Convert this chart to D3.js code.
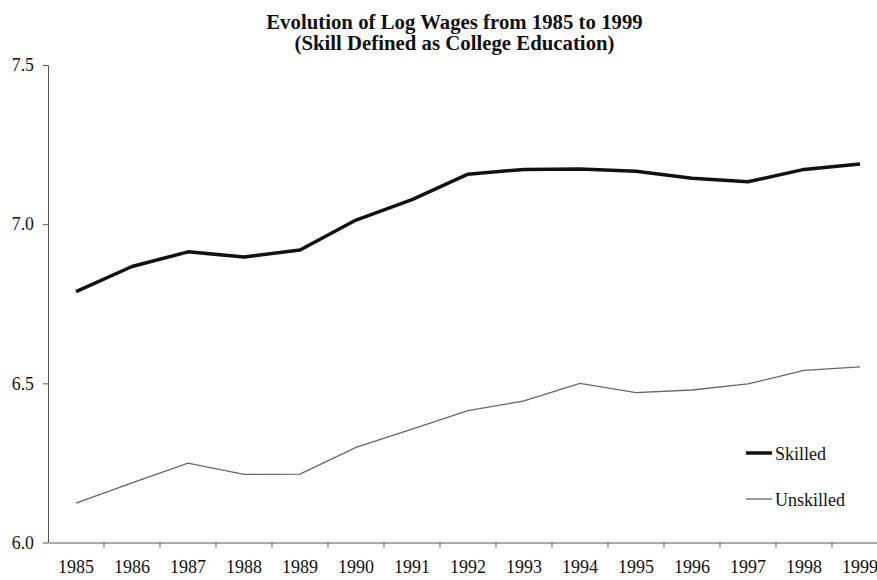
<!DOCTYPE html>
<html>
<head>
<meta charset="utf-8">
<script src="https://cdn.jsdelivr.net/npm/d3@7/dist/d3.min.js"></script>
<style>
  body { margin: 0; background: #fff; }
  svg { display: block; }
  text { font-family: "Liberation Serif", "Times New Roman", serif; fill: #111; }
  .axis path, .axis line { stroke: #555; }
</style>
</head>
<body>
<div id="chart"></div>
<script>
var years = ["1985","1986","1987","1988","1989","1990","1991","1992","1993","1994","1995","1996","1997","1998","1999"];
var skilled   = [6.788, 6.867, 6.913, 6.897, 6.919, 7.013, 7.077, 7.157, 7.172, 7.173, 7.166, 7.144, 7.133, 7.172, 7.189];
var unskilled = [6.124, 6.187, 6.249, 6.214, 6.215, 6.299, 6.356, 6.414, 6.445, 6.500, 6.471, 6.479, 6.498, 6.541, 6.552];
var yTicks = [6.0, 6.5, 7.0, 7.5];

var width = 877, height = 580;
var margin = {top: 65, left: 48};
var plotW = 840, plotH = 477.5;

var svg = d3.select("#chart").append("svg")
    .attr("width", width)
    .attr("height", height);

var x = d3.scaleBand().domain(years).range([0, plotW]).paddingInner(0).paddingOuter(0);
var y = d3.scaleLinear().domain([6.0, 7.5]).range([plotH, 0]);

var g = svg.append("g")
    .attr("transform", "translate(" + margin.left + "," + margin.top + ")");

// title
var title = svg.append("text")
    .attr("x", 454.5)
    .attr("text-anchor", "middle")
    .style("font-weight", "bold")
    .style("font-size", "20.8px");
title.append("tspan").attr("x", 454.5).attr("y", 28.5).text("Evolution of Log Wages from 1985 to 1999");
title.append("tspan").attr("x", 454.5).attr("y", 50).text("(Skill Defined as College Education)");

// y axis
var yAxis = g.append("g")
    .attr("class", "axis")
    .call(d3.axisLeft(y).tickValues(yTicks).tickFormat(d3.format(".1f")).tickSize(5).tickSizeOuter(0).tickPadding(9));
yAxis.selectAll("text").style("font-size", "17.8px");

// x axis: labels centred in bands, ticks on band edges
var xAxis = g.append("g")
    .attr("class", "axis")
    .attr("transform", "translate(0," + plotH + ")")
    .call(d3.axisBottom(x).tickSize(0).tickSizeOuter(0).tickPadding(18));
xAxis.selectAll(".tick line").remove();
xAxis.selectAll("text").style("font-size", "18px");
xAxis.selectAll(".edge")
    .data(years.slice(1).concat(["end"]))
  .enter().append("line")
    .attr("class", "edge")
    .attr("x1", function(d) { return d === "end" ? plotW : x(d); })
    .attr("x2", function(d) { return d === "end" ? plotW : x(d); })
    .attr("y1", 0)
    .attr("y2", 5)
    .attr("stroke", "#555");

var line = d3.line()
    .x(function(d, i) { return x(years[i]) + x.bandwidth() / 2; })
    .y(function(d) { return y(d); });

g.append("path")
    .datum(unskilled)
    .attr("fill", "none")
    .attr("stroke", "#666")
    .attr("stroke-width", 1.3)
    .attr("d", line);

g.append("path")
    .datum(skilled)
    .attr("fill", "none")
    .attr("stroke", "#111")
    .attr("stroke-width", 3.5)
    .attr("stroke-linejoin", "round")
    .attr("d", line);

// legend
var legendData = [
  {name: "Skilled", color: "#111", w: 3.5, y: 453},
  {name: "Unskilled", color: "#666", w: 1.3, y: 499}
];
var legend = svg.selectAll(".legend")
    .data(legendData)
  .enter().append("g")
    .attr("class", "legend")
    .attr("transform", function(d) { return "translate(746," + d.y + ")"; });
legend.append("line")
    .attr("x1", 0).attr("x2", 26)
    .attr("y1", 0).attr("y2", 0)
    .attr("stroke", function(d) { return d.color; })
    .attr("stroke-width", function(d) { return d.w; });
legend.append("text")
    .attr("x", 29)
    .attr("y", 7)
    .style("font-size", "18px")
    .text(function(d) { return d.name; });
</script>
</body>
</html>
